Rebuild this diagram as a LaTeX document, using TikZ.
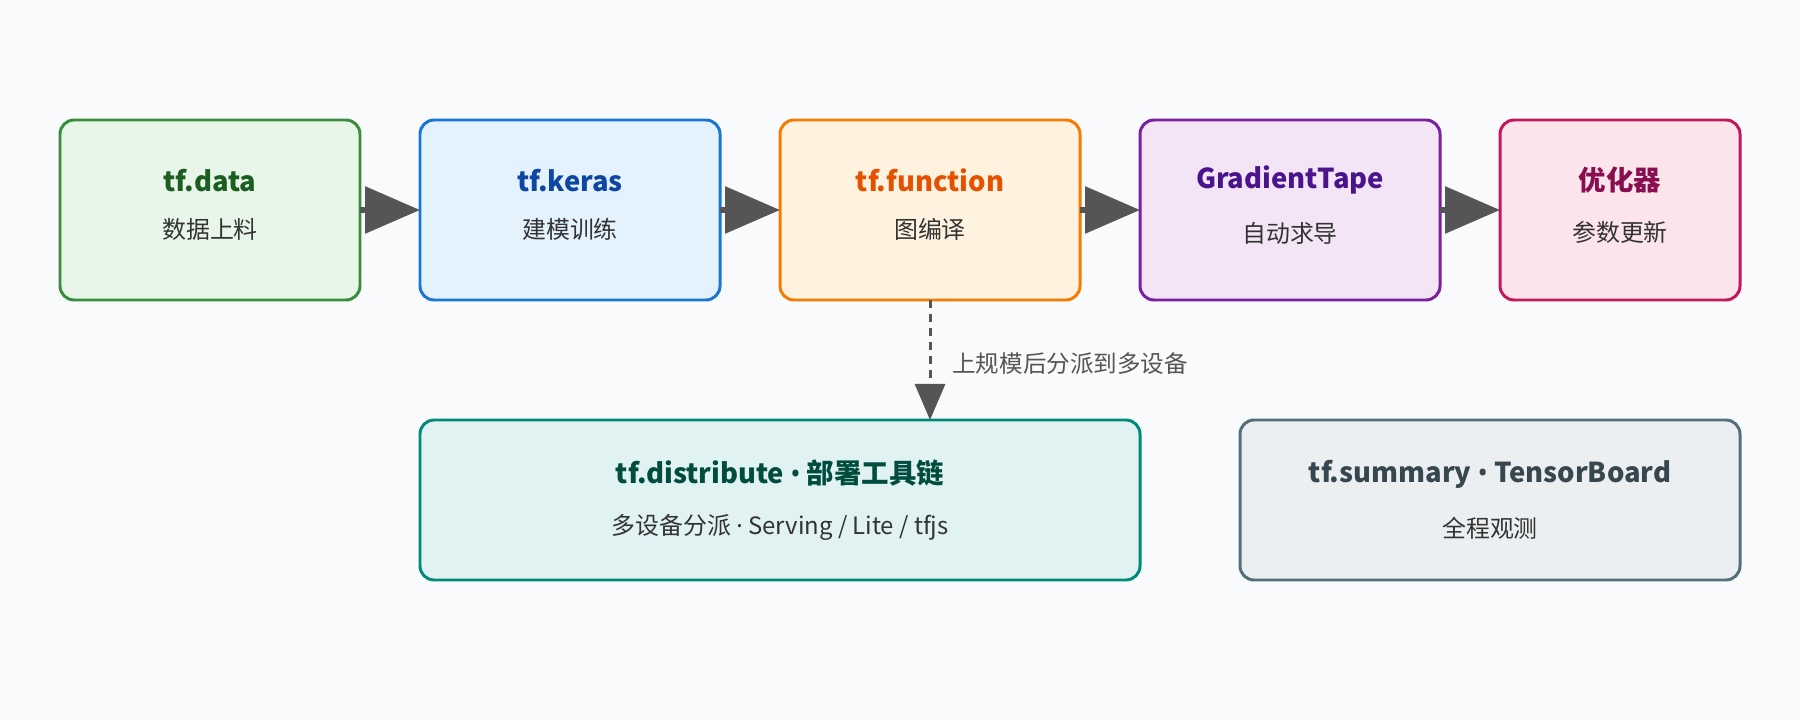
\documentclass[tikz,border=0pt]{standalone}
\usepackage{fontspec}
\setmainfont{Noto Sans CJK SC}
\newfontfamily\dotfont{Noto Sans}
\usepackage{xcolor}
\usetikzlibrary{positioning,arrows.meta}
\definecolor{paper}{HTML}{F8FAFC}
\definecolor{arrowgray}{HTML}{555555}
\definecolor{subtext}{HTML}{333333}
\definecolor{data-line}{HTML}{388E3C}\definecolor{data-fill}{HTML}{E8F5E9}\definecolor{data-text}{HTML}{1B5E20}
\definecolor{keras-line}{HTML}{1976D2}\definecolor{keras-fill}{HTML}{E3F2FD}\definecolor{keras-text}{HTML}{0D47A1}
\definecolor{func-line}{HTML}{F57C00}\definecolor{func-fill}{HTML}{FFF3E0}\definecolor{func-text}{HTML}{E65100}
\definecolor{tape-line}{HTML}{7B1FA2}\definecolor{tape-fill}{HTML}{F3E5F5}\definecolor{tape-text}{HTML}{4A148C}
\definecolor{opt-line}{HTML}{C2185B}\definecolor{opt-fill}{HTML}{FCE4EC}\definecolor{opt-text}{HTML}{880E4F}
\definecolor{dist-line}{HTML}{00897B}\definecolor{dist-fill}{HTML}{E0F2F1}\definecolor{dist-text}{HTML}{004D40}
\definecolor{summ-line}{HTML}{546E7A}\definecolor{summ-fill}{HTML}{ECEFF1}\definecolor{summ-text}{HTML}{37474F}
% #1 extra depth below the second line
\newcommand{\stagetext}[4][7pt]{{\color{#2}\bfseries\fontsize{15.6pt}{17pt}\selectfont #3}\\[15pt]{\color{subtext}\fontsize{13.6pt}{15pt}\selectfont #4\rule[-#1]{0pt}{#1}}}
\tikzset{
    stage-box/.style = {draw=#1-line, fill=#1-fill, line width=1.7pt, rectangle, rounded corners=8pt, outer sep=0pt, align=center, minimum width=6cm, minimum height=3.6cm},
    flow-arrow/.style = {draw=arrowgray, line width=3.4pt, -{Triangle[length=1.1cm,width=0.92cm]}},
    dash-arrow/.style = {draw=arrowgray, line width=1.7pt, dash pattern=on 0.16cm off 0.12cm, -{Triangle[length=0.72cm,width=0.6cm]}},
}

\begin{document}
\begin{tikzpicture}
\fill[paper] (0,0) rectangle (36,14.4);
\node [stage-box=data] (data) at (4.2,10.2) {\stagetext{data-text}{tf.data}{数据上料}};
\node [stage-box=keras, right=1.2cm of data] (keras) {\stagetext{keras-text}{tf.keras}{建模训练}};
\node [stage-box=func, right=1.2cm of keras] (func) {\stagetext{func-text}{tf.function}{图编译}};
\node [stage-box=tape, right=1.2cm of func] (tape) {\stagetext{tape-text}{GradientTape}{自动求导}};
\node [stage-box=opt, right=1.2cm of tape, minimum width=4.8cm] (opt) {\stagetext{opt-text}{优化器}{参数更新}};
\node [stage-box=dist, below=2.4cm of keras.south west, anchor=north west, minimum width=14.4cm, minimum height=3.2cm] (dist) {\stagetext[0pt]{dist-text}{tf.distribute {\dotfont•} 部署工具链}{多设备分派 {\dotfont·} Serving / Lite / tfjs}};
\node [stage-box=summ, right=2cm of dist, minimum width=10cm, minimum height=3.2cm] (summ) {\stagetext[0pt]{summ-text}{tf.summary {\dotfont•} TensorBoard}{全程观测}};
\draw [flow-arrow] (data) -- (keras);
\draw [flow-arrow] (keras) -- (func);
\draw [flow-arrow] (func) -- (tape);
\draw [flow-arrow] (tape) -- (opt);
\draw [dash-arrow] (func.south) -- node [right=0.3cm, yshift=-2pt, text=arrowgray, font=\fontsize{13.4pt}{15pt}\selectfont] (scale) {上规模后分派到多设备} (func.south |- dist.north);
\end{tikzpicture}
\end{document}
